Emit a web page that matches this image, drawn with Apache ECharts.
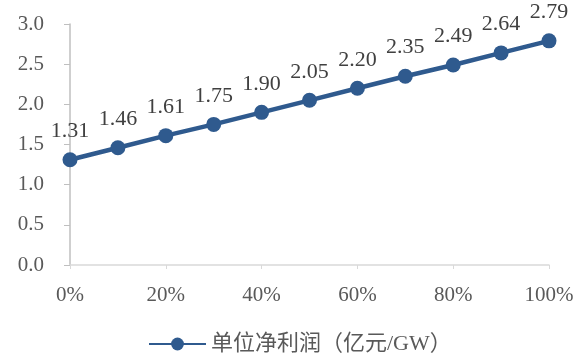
<!DOCTYPE html>
<html><head><meta charset="utf-8">
<script src="https://cdn.jsdelivr.net/npm/echarts@6/dist/echarts.min.js"></script>
<style>html,body{margin:0;padding:0;background:#fff}#c{width:582px;height:360px}</style>
</head><body><div id="c"></div>
<script>
const categories = ['0%','10%','20%','30%','40%','50%','60%','70%','80%','90%','100%'];
const values = [1.31,1.46,1.61,1.75,1.90,2.05,2.20,2.35,2.49,2.64,2.79];
const seriesName = '单位净利润（亿元/GW）';
const font = '"Liberation Serif","Times New Roman","Noto Sans CJK SC",serif';
const chart = echarts.init(document.getElementById('c'));
chart.setOption({
  animation:false,
  grid:{left:70,right:33,top:24,bottom:95,containLabel:false},
  xAxis:{type:'category',data:categories,boundaryGap:false,
    axisLine:{lineStyle:{color:'#D9D9D9',width:1.5}},
    axisTick:{interval:1,length:4,lineStyle:{color:'#D9D9D9'}},
    axisLabel:{interval:1,margin:20,color:'#595959',fontSize:21,fontFamily:font}},
  yAxis:{type:'value',min:0,max:3,interval:0.5,
    axisLine:{show:true,lineStyle:{color:'#BFBFBF',width:1.5}},
    axisTick:{show:true,length:6,inside:false,lineStyle:{color:'#BFBFBF'}},
    splitLine:{show:false},
    axisLabel:{margin:26,color:'#595959',fontSize:21,fontFamily:font,formatter:v=>v.toFixed(1)}},
  legend:{top:328,left:143,itemWidth:57,itemHeight:16,itemGap:8,
    textStyle:{color:'#595959',fontSize:22,fontFamily:font},data:[seriesName]},
  series:[{name:seriesName,type:'line',data:values,symbol:'circle',symbolSize:15,
    lineStyle:{color:'#2F5A8E',width:4.5},itemStyle:{color:'#2F5A8E'},
    label:{show:true,position:'top',distance:10,color:'#404040',fontSize:22,fontFamily:font,
      formatter:p=>p.value.toFixed(2)}}]
});
</script></body></html>
